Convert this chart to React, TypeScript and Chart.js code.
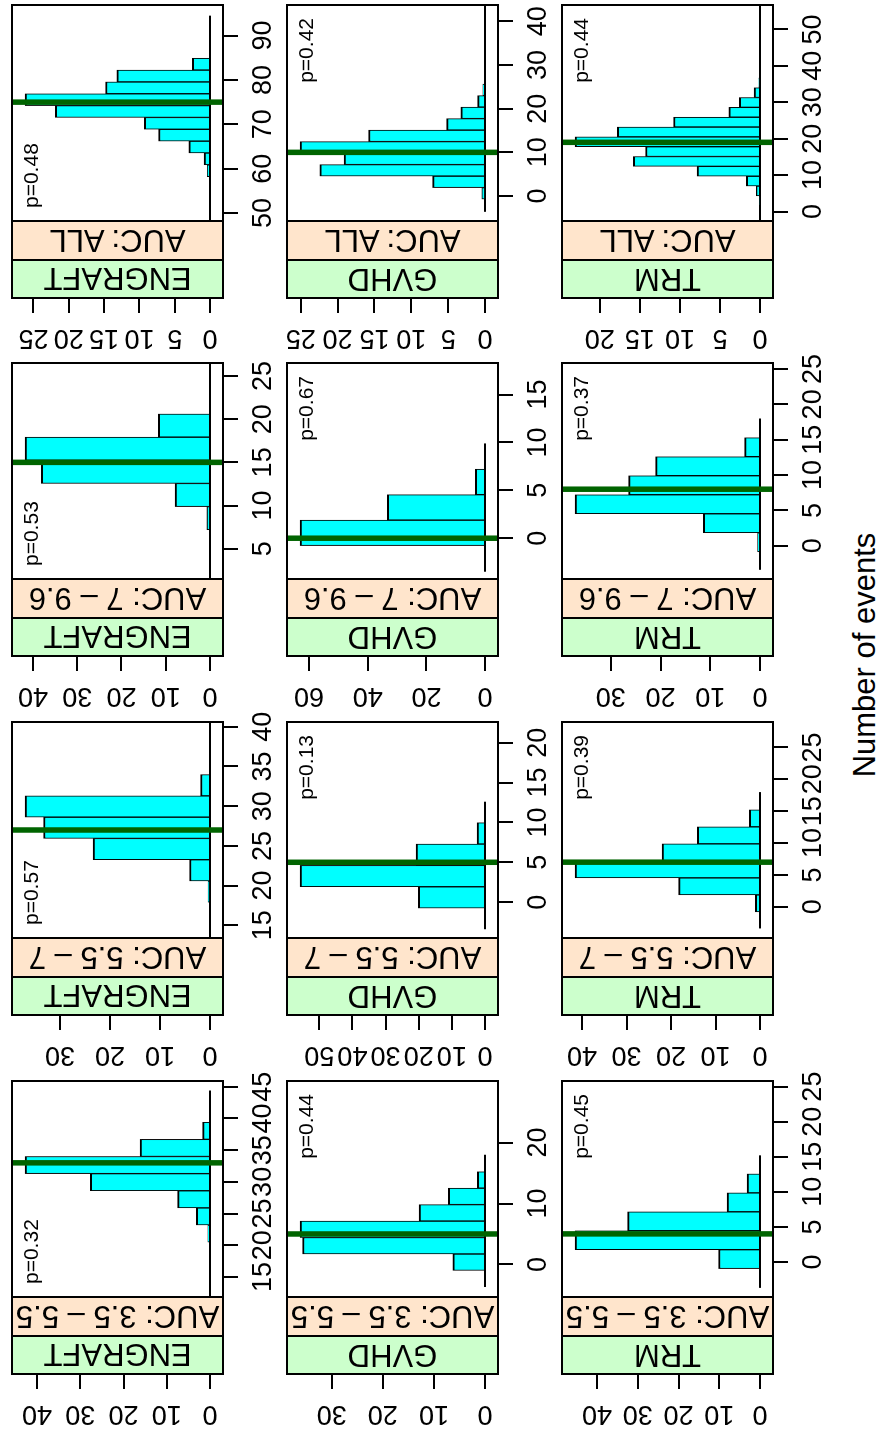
import React, { useEffect, useRef } from "react";
import { Chart, registerables } from "chart.js";

Chart.register(...registerables);

const FONT = '"Liberation Sans", Arial, Helvetica, sans-serif';

// ---------- categories / labels ----------
const outcomeLabels = ["ENGRAFT", "GVHD", "TRM"];
const aucLabels = ["AUC: 3.5 \u2013 5.5", "AUC: 5.5 \u2013 7", "AUC: 7 \u2013 9.6", "AUC: ALL"];
const xAxisTitle = "Number of events";

// ---------- ENGRAFT ----------
const engraft35Breaks = [20.5, 23.2, 25.9, 28.6, 31.3, 34.0, 36.7, 39.4];
const engraft35Pct = [0.54, 3.2, 7.5, 27.7, 42.8, 16.2, 1.7];
const engraft55Breaks = [17.9, 20.58, 23.26, 25.94, 28.62, 31.3, 33.98];
const engraft55Pct = [0.4, 4.1, 23.4, 33.3, 37.0, 1.9];
const engraft7Breaks = [7.2, 9.88, 12.56, 15.24, 17.92, 20.6];
const engraft7Pct = [0.7, 7.9, 38.1, 41.8, 11.7];
const engraftAllBreaks = [58.2, 60.87, 63.54, 66.21, 68.88, 71.55, 74.22, 76.89, 79.56, 82.23, 84.9];
const engraftAllPct = [0.4, 0.85, 3.0, 7.3, 9.3, 21.9, 26.2, 14.8, 13.2, 2.5];

// ---------- GVHD ----------
const gvhd35Breaks = [-0.98, 1.72, 4.42, 7.12, 9.82, 12.52, 15.22];
const gvhd35Pct = [6.3, 35.7, 36.2, 12.9, 7.2, 1.5];
const gvhd55Breaks = [-0.75, 1.93, 4.61, 7.29, 9.97];
const gvhd55Pct = [20.1, 55.8, 20.8, 2.4];
const gvhd7Breaks = [-0.77, 1.89, 4.55, 7.21];
const gvhd7Pct = [63.1, 33.3, 3.3];
const gvhdAllBreaks = [-0.69, 1.94, 4.57, 7.2, 9.83, 12.46, 15.09, 17.72, 20.35, 22.98, 25.61];
const gvhdAllPct = [0.45, 7.1, 22.4, 19.1, 25.1, 15.8, 5.2, 3.3, 1.0, 0.3];

// ---------- TRM ----------
const trm35Breaks = [-0.95, 1.75, 4.45, 7.15, 9.85, 12.55];
const trm35Pct = [10.2, 45.4, 32.5, 8.1, 3.2];
const trm55Breaks = [-0.8, 1.87, 4.54, 7.21, 9.88, 12.55, 15.22];
const trm55Pct = [1.05, 18.3, 41.6, 22.0, 14.1, 2.4];
const trm7Breaks = [-0.85, 1.84, 4.53, 7.22, 9.91, 12.6, 15.29];
const trm7Pct = [0.5, 11.4, 37.2, 26.4, 21.0, 3.1];
const trmAllBreaks = [1.6, 4.3, 7.0, 9.7, 12.4, 15.1, 17.8, 20.5, 23.2, 25.9, 28.6, 31.3, 34.0, 36.7];
const trmAllPct = [0.1, 0.46, 1.7, 7.85, 15.8, 14.3, 23.1, 17.8, 10.8, 3.9, 2.6, 0.75, 0.15];

// observed number of events (green line) [outcome][auc group]
const observedEvents = [
  [33, 27, 15, 75],
  [5, 5, 0, 10],
  [4, 7, 8, 19],
];
const pValues = [
  ["p=0.32", "p=0.57", "p=0.53", "p=0.48"],
  ["p=0.44", "p=0.13", "p=0.67", "p=0.42"],
  ["p=0.45", "p=0.39", "p=0.37", "p=0.44"],
];

// value-axis (number of events) ranges and ticks
const valueRanges = [
  [[11.85, 45.9], [13.4, 40.6], [1.5, 26.5], [48.2, 96.9]],
  [[-5.34, 30.1], [-4.5, 22.6], [-4.26, 18.3], [-5.7, 43.7]],
  [[-5.0, 25.8], [-4.9, 29.0], [-4.7, 25.85], [-2.6, 56.7]],
];
const zeroLineRanges = [
  [[11.85, 44.4], [13.4, 40.6], [1.5, 26.5], [48.2, 94.5]],
  [[-3.7, 18.0], [-3.4, 12.6], [-3.5, 9.9], [-3.6, 43.7]],
  [[-3.7, 15.2], [-3.4, 18.0], [-3.4, 18.0], [-2.6, 56.7]],
];
const valueTicks = [
  [[15, 20, 25, 30, 35, 40, 45], [15, 20, 25, 30, 35, 40], [5, 10, 15, 20, 25], [50, 60, 70, 80, 90]],
  [[0, 10, 20], [0, 5, 10, 15, 20], [0, 5, 10, 15], [0, 10, 20, 30, 40]],
  [[0, 5, 10, 15, 20, 25], [0, 5, 10, 15, 20, 25], [0, 5, 10, 15, 20, 25], [0, 10, 20, 30, 40, 50]],
];
const countTicks = [
  [[0, 10, 20, 30, 40], [0, 10, 20, 30], [0, 10, 20, 30, 40], [0, 5, 10, 15, 20, 25]],
  [[0, 10, 20, 30], [0, 10, 20, 30, 40, 50], [0, 20, 40, 60], [0, 5, 10, 15, 20, 25]],
  [[0, 10, 20, 30, 40], [0, 10, 20, 30, 40], [0, 10, 20, 30], [0, 5, 10, 15, 20]],
];

const histBreaks = [
  [engraft35Breaks, engraft55Breaks, engraft7Breaks, engraftAllBreaks],
  [gvhd35Breaks, gvhd55Breaks, gvhd7Breaks, gvhdAllBreaks],
  [trm35Breaks, trm55Breaks, trm7Breaks, trmAllBreaks],
];
const histPct = [
  [engraft35Pct, engraft55Pct, engraft7Pct, engraftAllPct],
  [gvhd35Pct, gvhd55Pct, gvhd7Pct, gvhdAllPct],
  [trm35Pct, trm55Pct, trm7Pct, trmAllPct],
];

// ---------- layout (un-rotated figure, 1436 x 881) ----------
const FIG_W = 1436;
const FIG_H = 881;
const PLOT_LEFT = [139, 498, 857, 1215];
const ROW_TOP = [12, 287, 562];
const PLOT_W = 216;
const PLOT_H = 211;
const STRIP_OUT = 38;
const STRIP_IN = 39;
const STRIP_TOTAL = STRIP_OUT + STRIP_IN;
const AXIS_Y_W = 90;
const AXIS_X_H = 60;
const PAD_T = 15;
const PAD_R = 30;
const CANVAS_W = AXIS_Y_W + STRIP_TOTAL + PLOT_W + PAD_R;
const CANVAS_H = PAD_T + PLOT_H + AXIS_X_H;
const TICK_FONT_SIZE = 27;

const CYAN = "#00FFFF";
const DARK_GREEN = "#006400";
const STRIP_GREEN = "#CCFFCC";
const STRIP_PEACH = "#FFE5CC";

type PanelSpec = { row: number; col: number };
const panelList: PanelSpec[] = [];
for (let r = 0; r < 3; r++) for (let c = 0; c < 4; c++) panelList.push({ row: r, col: c });

const framePlugin = {
  id: "latticeFrame",
  afterDatasetsDraw(chart: any) {
    const { ctx, chartArea: a } = chart;
    ctx.save();
    ctx.fillStyle = STRIP_GREEN;
    ctx.fillRect(a.left, a.top, STRIP_OUT, a.bottom - a.top);
    ctx.fillStyle = STRIP_PEACH;
    ctx.fillRect(a.left + STRIP_OUT, a.top, STRIP_IN, a.bottom - a.top);
    ctx.strokeStyle = "#000";
    ctx.lineWidth = 2;
    ctx.beginPath();
    ctx.moveTo(a.left + STRIP_OUT, a.top);
    ctx.lineTo(a.left + STRIP_OUT, a.bottom);
    ctx.moveTo(a.left + STRIP_TOTAL, a.top);
    ctx.lineTo(a.left + STRIP_TOTAL, a.bottom);
    ctx.stroke();
    ctx.strokeRect(a.left, a.top, a.right - a.left, a.bottom - a.top);
    ctx.restore();
  },
};

function buildConfig(spec: PanelSpec): any {
  const { row, col } = spec;
  const breaks = histBreaks[row][col];
  const pct = histPct[row][col];
  const maxPct = Math.max(...pct);
  const yMin = -0.07 * maxPct;
  const yMax = 1.07 * maxPct;
  const [lo, hi] = valueRanges[row][col];
  const xMin = lo - ((hi - lo) * STRIP_TOTAL) / PLOT_W;
  const bars = pct.map((v, i) => ({ x: (breaks[i] + breaks[i + 1]) / 2, y: v }));
  const zl = zeroLineRanges[row][col];
  const obs = observedEvents[row][col];
  const xt = valueTicks[row][col];
  const yt = countTicks[row][col];
  const tickFont = { family: FONT, size: TICK_FONT_SIZE };
  const pinAxis = (size: number, horizontal: boolean) => (s: any) => {
    if (horizontal) s.height = size;
    else s.width = size;
    s.paddingLeft = 0;
    s.paddingRight = 0;
    s.paddingTop = 0;
    s.paddingBottom = 0;
  };
  return {
    type: "bar",
    data: {
      datasets: [
        {
          type: "line",
          data: [
            { x: zl[0], y: 0 },
            { x: zl[1], y: 0 },
          ],
          borderColor: "#000",
          borderWidth: 2,
          pointRadius: 0,
          order: 3,
        },
        {
          type: "bar",
          data: bars,
          backgroundColor: CYAN,
          borderColor: "#000",
          borderWidth: { left: 1, right: 1, top: 2, bottom: 0 },
          barPercentage: 1,
          categoryPercentage: 1,
          order: 2,
        },
        {
          type: "line",
          data: [
            { x: obs, y: yMin },
            { x: obs, y: yMax },
          ],
          borderColor: DARK_GREEN,
          borderWidth: 5.5,
          pointRadius: 0,
          order: 1,
        },
      ],
    },
    options: {
      responsive: false,
      animation: false,
      devicePixelRatio: 1,
      events: [],
      layout: { padding: { left: 0, top: PAD_T, right: PAD_R, bottom: 0 } },
      plugins: { legend: { display: false }, tooltip: { enabled: false } },
      scales: {
        x: {
          type: "linear",
          position: "bottom",
          min: xMin,
          max: hi,
          offset: false,
          grid: {
            offset: false,
            drawOnChartArea: false,
            drawTicks: true,
            tickLength: 15,
            color: "#000",
            tickColor: "#000",
            lineWidth: 2,
            tickWidth: 2,
          },
          border: { display: false },
          ticks: {
            autoSkip: false,
            maxRotation: 0,
            minRotation: 0,
            padding: 9,
            color: "#000",
            font: tickFont,
            callback: (v: any) => String(v),
          },
          afterBuildTicks: (s: any) => {
            s.ticks = xt.map((v) => ({ value: v }));
          },
          afterFit: pinAxis(AXIS_X_H, true),
        },
        y: {
          type: "linear",
          position: "left",
          min: yMin,
          max: yMax,
          grid: {
            drawOnChartArea: false,
            drawTicks: true,
            tickLength: 15,
            color: "#000",
            tickColor: "#000",
            lineWidth: 2,
            tickWidth: 2,
          },
          border: { display: false },
          ticks: {
            autoSkip: false,
            minRotation: 90,
            maxRotation: 90,
            crossAlign: "center",
            padding: 9,
            color: "#000",
            font: tickFont,
            callback: (v: any) => String(v),
          },
          afterBuildTicks: (s: any) => {
            s.ticks = yt.map((v) => ({ value: v }));
          },
          afterFit: pinAxis(AXIS_Y_W, false),
        },
      },
    },
    plugins: [framePlugin],
  };
}

export default function App() {
  const canvasRefs = useRef<(HTMLCanvasElement | null)[]>([]);

  useEffect(() => {
    const charts = panelList.map((spec, k) => new Chart(canvasRefs.current[k] as HTMLCanvasElement, buildConfig(spec)));
    return () => charts.forEach((c) => c.destroy());
  }, []);

  return (
    <div
      style={{
        position: "absolute",
        left: 0,
        top: 0,
        width: FIG_W,
        height: FIG_H,
        overflow: "hidden",
        background: "#fff",
        transformOrigin: "0 0",
        transform: `translate(0px, ${FIG_W}px) rotate(-90deg)`,
        fontFamily: FONT,
        color: "#000",
      }}
    >
      {panelList.map((spec, k) => {
        const boxLeft = PLOT_LEFT[spec.col] - STRIP_TOTAL;
        const top = ROW_TOP[spec.row];
        return (
          <canvas
            key={"c" + k}
            ref={(el) => {
              canvasRefs.current[k] = el;
            }}
            width={CANVAS_W}
            height={CANVAS_H}
            style={{
              position: "absolute",
              left: boxLeft - AXIS_Y_W,
              top: top - PAD_T,
              width: CANVAS_W,
              height: CANVAS_H,
            }}
          />
        );
      })}
      {panelList.map((spec, k) => {
        const boxLeft = PLOT_LEFT[spec.col] - STRIP_TOTAL;
        const top = ROW_TOP[spec.row];
        const stripText = (text: string, left: number, width: number, key: string) => (
          <div
            key={key}
            style={{
              position: "absolute",
              left,
              top,
              width,
              height: PLOT_H,
              display: "flex",
              alignItems: "center",
              justifyContent: "center",
              fontSize: 31,
              lineHeight: 1,
            }}
          >
            <span style={{ whiteSpace: "nowrap", transform: "rotate(-90deg)", display: "inline-block" }}>{text}</span>
          </div>
        );
        const pLeftAligned = spec.row === 0;
        return (
          <React.Fragment key={"t" + k}>
            {stripText(outcomeLabels[spec.row], boxLeft, STRIP_OUT, "o" + k)}
            {stripText(aucLabels[spec.col], boxLeft + STRIP_OUT, STRIP_IN, "a" + k)}
            <div
              style={{
                position: "absolute",
                top: top + 8,
                left: pLeftAligned ? PLOT_LEFT[spec.col] + 13 : PLOT_LEFT[spec.col] + PLOT_W - 13 - 150,
                width: 150,
                textAlign: pLeftAligned ? "left" : "right",
                fontSize: 21,
                lineHeight: 1,
                whiteSpace: "nowrap",
              }}
            >
              {pValues[spec.row][spec.col]}
            </div>
          </React.Fragment>
        );
      })}
      <div
        style={{
          position: "absolute",
          left: 481,
          top: 849,
          width: 600,
          textAlign: "center",
          fontSize: 31,
          lineHeight: 1,
          whiteSpace: "nowrap",
        }}
      >
        {xAxisTitle}
      </div>
    </div>
  );
}
